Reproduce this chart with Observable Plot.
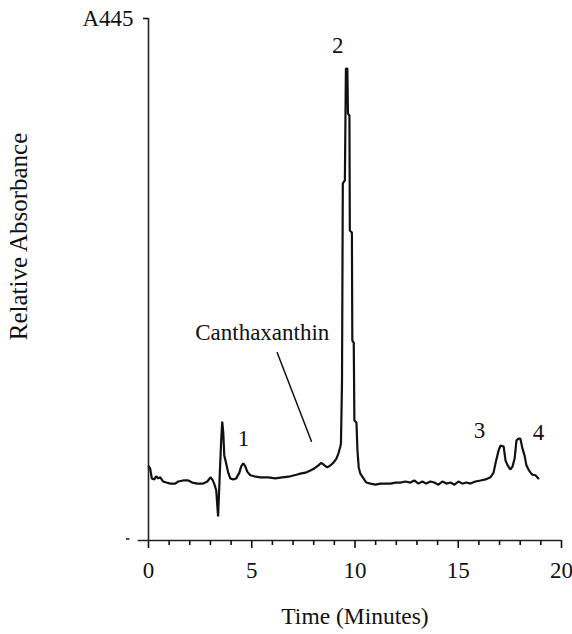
<!DOCTYPE html>
<html>
<head>
<meta charset="utf-8">
<script src="https://cdn.jsdelivr.net/npm/d3@7"></script>
<script src="https://cdn.jsdelivr.net/npm/@observablehq/plot@0.6"></script>
<style>
  html, body { margin: 0; padding: 0; background: #fff; }
  #chart svg { display: block; overflow: visible; }
</style>
</head>
<body>
<div id="chart"></div>
<script>
// Chromatogram trace: time (minutes) and relative absorbance at 445 nm (axis top = 100)
const time = [
  0.01, 0.08, 0.16, 0.28, 0.37, 0.47, 0.57, 0.71, 0.86, 1.05, 1.29, 1.44, 1.68, 1.92, 2.12, 2.36, 2.65, 2.85,
  3.00, 3.09, 3.18, 3.28, 3.37, 3.45, 3.52, 3.57, 3.62, 3.67, 3.77, 3.86, 3.96, 4.11, 4.25, 4.40, 4.49, 4.59,
  4.69, 4.78, 4.93, 5.12, 5.41, 5.80, 6.14, 6.48, 6.87, 7.16, 7.35, 7.60, 7.84, 8.03, 8.23, 8.37, 8.52, 8.66,
  8.81, 8.95, 9.10, 9.20, 9.29, 9.32, 9.37, 9.41, 9.51, 9.56, 9.63, 9.66, 9.73, 9.75, 9.85, 9.87, 9.94, 9.97,
  10.07, 10.12, 10.18, 10.26, 10.41, 10.55, 10.75, 10.99, 11.23, 11.47, 11.72, 11.96, 12.20, 12.44, 12.68, 12.87,
  13.07, 13.26, 13.45, 13.65, 13.84, 14.04, 14.23, 14.43, 14.62, 14.82, 15.01, 15.20, 15.40, 15.59, 15.83, 16.08,
  16.32, 16.56, 16.71, 16.81, 16.95, 17.05, 17.20, 17.29, 17.39, 17.53, 17.63, 17.73, 17.82, 17.92, 18.01, 18.11,
  18.21, 18.30, 18.40, 18.50, 18.59, 18.74, 18.88
];
const absorbance = [
  14.2, 13.8, 11.9, 11.7, 12.3, 11.9, 12.1, 11.3, 11.1, 10.9, 10.9, 11.3, 11.5, 11.5, 11.1, 10.9, 10.9, 11.3,
  12.1, 11.7, 10.9, 9.6, 4.6, 12.5, 19.2, 22.8, 20.7, 16.3, 14.6, 13.0, 11.9, 11.7, 11.9, 13.0, 14.2, 14.8,
  14.2, 13.2, 12.5, 12.3, 12.1, 12.1, 11.9, 12.1, 12.3, 12.6, 12.8, 13.0, 13.4, 13.8, 14.4, 14.9, 14.4, 14.0,
  14.4, 14.9, 15.7, 16.7, 18.0, 18.6, 30.1, 68.4, 69.0, 90.4, 90.4, 81.8, 81.4, 59.4, 59.0, 38.3, 37.9, 23.0,
  22.6, 17.2, 14.0, 12.8, 11.9, 11.1, 10.9, 10.7, 10.9, 10.9, 10.9, 11.1, 11.1, 11.3, 11.1, 11.5,
  10.9, 11.3, 10.9, 11.3, 11.1, 10.7, 11.3, 10.9, 11.1, 10.7, 11.3, 10.9, 11.1, 10.9, 11.3, 11.5,
  11.7, 12.1, 13.0, 14.9, 17.2, 18.2, 18.0, 15.3, 14.4, 13.6, 14.2, 15.7, 19.2, 19.5, 19.5, 17.6,
  16.3, 14.4, 13.6, 13.0, 12.6, 12.5, 11.9
];

// Peak labels
const peakLabels = ["1", "2", "3", "4"];
const peakTime = [4.6, 9.16, 16.03, 18.89];
const peakValue = [19.5, 94.8, 21.1, 20.7];

// Canthaxanthin annotation
const annotText = ["Canthaxanthin"];
const annotTime = [5.51];
const annotValue = [39.8];
const leaderTime = [6.23, 7.89];
const leaderValue = [36.0, 19.0];

// Axis ticks
const majorTicks = [0, 5, 10, 15, 20];
const minorTicks = [1, 2, 3, 4, 6, 7, 8, 9, 11, 12, 13, 14, 16, 17, 18, 19];
const topTick = [100];
const topTickLabel = "A445";

const trace = time.map((t, i) => ({t, a: absorbance[i]}));
const peaks = peakLabels.map((l, i) => ({l, t: peakTime[i], a: peakValue[i]}));
const annot = annotText.map((l, i) => ({l, t: annotTime[i], a: annotValue[i]}));
const leader = leaderTime.map((t, i) => ({t, a: leaderValue[i]}));

const font = "'Liberation Serif', 'Times New Roman', Times, serif";

const chart = Plot.plot({
  width: 572,
  height: 634,
  marginLeft: 148,
  marginRight: 11,
  marginTop: 18,
  marginBottom: 94,
  style: {fontFamily: font, fontSize: "23px", color: "#111", background: "#fff"},
  x: {domain: [0, 20]},
  y: {domain: [0, 100]},
  marks: [
    // x axis line
    Plot.ruleY([0], {x1: -0.5, x2: 20, stroke: "#222", strokeWidth: 1.6}),
    // y axis line
    Plot.ruleX([0], {y1: 0, y2: 100, stroke: "#222", strokeWidth: 1.6}),
    // small stray tick near origin
    Plot.ruleY([0.3], {x1: -1.07, x2: -0.9, stroke: "#222", strokeWidth: 1.6}),
    Plot.axisX(majorTicks, {tickSize: 8, tickPadding: 13, strokeWidth: 1.6, fontSize: 23, tickFormat: d => d, label: null}),
    Plot.axisX(minorTicks, {tickSize: 5, strokeWidth: 1.6, text: null, label: null}),
    Plot.axisY(topTick, {tickSize: 5, tickPadding: 10, strokeWidth: 1.6, fontSize: 23, tickFormat: () => topTickLabel, label: null}),
    Plot.text(["Time (Minutes)"], {frameAnchor: "bottom", dy: 83, fontSize: 23.5, fill: "#111"}),
    Plot.text(["Relative Absorbance"], {frameAnchor: "left", textAnchor: "middle", dx: -130, dy: -43, rotate: -90, fontSize: 25, fill: "#111"}),
    // trace
    Plot.line(trace, {x: "t", y: "a", stroke: "#111", strokeWidth: 2.2, strokeLinejoin: "miter"}),
    // annotations
    Plot.line(leader, {x: "t", y: "a", stroke: "#111", strokeWidth: 1.5}),
    Plot.text(annot, {x: "t", y: "a", text: "l", fontSize: 23, fill: "#111"}),
    Plot.text(peaks, {x: "t", y: "a", text: "l", fontSize: 23, fill: "#111"})
  ]
});
document.getElementById("chart").appendChild(chart);
</script>
</body>
</html>
